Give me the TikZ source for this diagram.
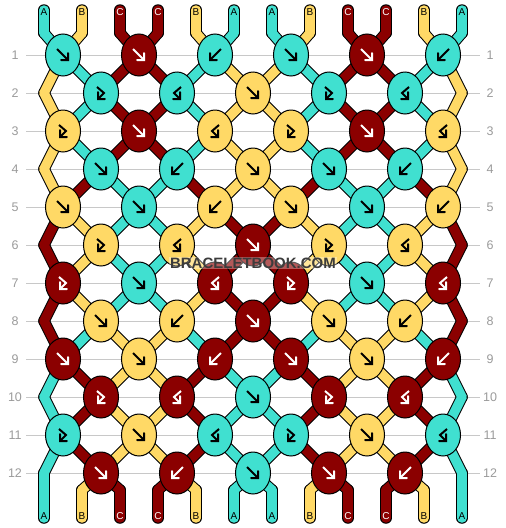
\documentclass[tikz,border=0pt]{standalone}
\usepackage{fontspec}
\setmainfont{Liberation Sans}
\usetikzlibrary{arrows}

\definecolor{thA}{HTML}{40E0D0}
\definecolor{thB}{HTML}{FFD966}
\definecolor{thC}{HTML}{8B0000}
\colorlet{arA}{black}
\colorlet{arB}{black}
\colorlet{arC}{white}
\definecolor{rowgray}{HTML}{9A9A9A}
\definecolor{linegray}{HTML}{C8C8C8}
\definecolor{markgray}{HTML}{3C3C3C}

\def\stA{A,B,C,C,B,A,A,B,C,C,B,A}
\def\stB{B,A,C,C,A,B,B,A,C,C,A,B}
\def\stC{B,C,A,A,C,B,B,C,A,A,C,B}
\def\stD{C,B,A,A,B,C,C,B,A,A,B,C}
\def\stE{C,A,B,B,A,C,C,A,B,B,A,C}
\def\stF{A,C,B,B,C,A,A,C,B,B,C,A}
\def\seglist{-1/\stA,0/\stA,1/\stB,2/\stB,3/\stB,4/\stC,5/\stD,6/\stD,7/\stD,8/\stE,9/\stF,10/\stF,11/\stF,12/\stA,13/\stA}

\tikzset{
  threadedge/.style={draw=black, line width=11.5pt, line cap=round},
  threadfill/.style={line width=9.5pt, line cap=round},
  knot/.style={draw=black, line width=1pt},
  arrowline/.style={line width=2pt},
  gridline/.style={draw=linegray, line width=1pt},
  rowlabel/.style={text=rowgray, font=\fontsize{12.5}{14}\selectfont},
  stublabel/.style={font=\fontsize{10}{11}\selectfont, inner sep=0pt},
  watermark/.style={text=markgray, font=\fontsize{15}{17}\selectfont\bfseries,
    fill=white, fill opacity=0.35, text opacity=1, inner sep=1pt},
  fwd/.pic={\draw[arrowline,->] (-6,-6) -- (6,6);},
  bwd/.pic={\draw[arrowline,->] (6,-6) -- (-6,6);},
  fb/.pic={\draw[arrowline,->] (-4,-6) -- (3,0) -- (-4,7);},
  bf/.pic={\draw[arrowline,->] (4,-6) -- (-3,0) -- (4,7);}
}

\begin{document}
\begin{tikzpicture}[x=1pt, y=-1pt, >=angle 90,
  declare function={
    kx(\m,\n)=(\m<1||\m>12) ? 44+38*\n : (mod(\m,2)==1 ? 63+76*floor(\n/2) : (\n==0 ? 44 : (\n==11 ? 462 : 101+76*floor((\n-1)/2))));
    ky(\m)=(\m<0) ? 10 : ((\m==0) ? 33 : ((\m==13) ? 490 : ((\m>13) ? 518 : 17+38*\m)));
  }]
  \useasboundingbox (0,0) rectangle (506,528);

  \foreach \rw in {1,...,12}{
    \draw[gridline] (26,17+38*\rw) -- (480,17+38*\rw);
    \node[rowlabel] (lrow\rw) at (15,17+38*\rw) {\rw};
    \node[rowlabel] (rrow\rw) at (490,17+38*\rw) {\rw};
  }

  \foreach \rw/\st in \seglist{
    \edef\lst{\st}
    \foreach \tc [count=\p from 0] in \lst
      \draw[threadedge] ({kx(\rw,\p)},{ky(\rw)}) -- ({kx(\rw+1,\p)},{ky(\rw+1)});
  }
  \foreach \rw/\st in \seglist{
    \edef\lst{\st}
    \foreach \tc [count=\p from 0] in \lst
      \draw[threadfill, draw=th\tc] ({kx(\rw,\p)},{ky(\rw)}) -- ({kx(\rw+1,\p)},{ky(\rw+1)});
  }

  \foreach \tc [count=\p from 0] in \stA{
    \node[stublabel, text=ar\tc] (top\p) at (44+38*\p,12) {\tc};
    \node[stublabel, text=ar\tc] (bot\p) at (44+38*\p,516) {\tc};
  }

  \foreach \rw/\ks in {
    1/{A/fwd,C/fwd,A/bwd,A/fwd,C/fwd,A/bwd},
    2/{A/fb,A/bf,B/fwd,A/fb,A/bf},
    3/{B/fb,C/fwd,B/bf,B/fb,C/fwd,B/bf},
    4/{A/fwd,A/bwd,B/fwd,A/fwd,A/bwd},
    5/{B/fwd,A/fwd,B/bwd,B/fwd,A/fwd,B/bwd},
    6/{B/fb,B/bf,C/fwd,B/fb,B/bf},
    7/{C/fb,A/fwd,C/bf,C/fb,A/fwd,C/bf},
    8/{B/fwd,B/bwd,C/fwd,B/fwd,B/bwd},
    9/{C/fwd,B/fwd,C/bwd,C/fwd,B/fwd,C/bwd},
    10/{C/fb,C/bf,A/fwd,C/fb,C/bf},
    11/{A/fb,B/fwd,A/bf,A/fb,B/fwd,A/bf},
    12/{C/fwd,C/bwd,A/fwd,C/fwd,C/bwd}}{
    \foreach \kc/\kt [count=\i from 0] in \ks{
      \pgfmathsetmacro\kx{mod(\rw,2)==1 ? 63+76*\i : 101+76*\i}
      \pgfmathsetmacro\ky{17+38*\rw}
      \draw[knot, fill=th\kc] (\kx,\ky) ellipse [x radius=17.5pt, y radius=21pt];
      \pic[color=ar\kc] at (\kx,\ky) {\kt};
    }
  }

  \node[watermark] (brand) at (253,263) {BRACELETBOOK.COM};
\end{tikzpicture}
\end{document}
